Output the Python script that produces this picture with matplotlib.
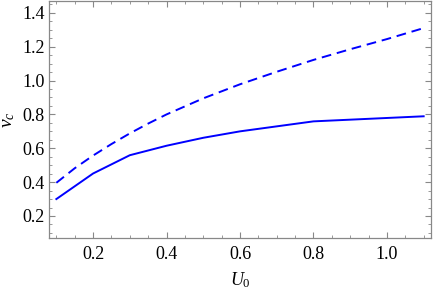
import matplotlib
matplotlib.use("Agg")
import matplotlib.pyplot as plt
from matplotlib.ticker import MultipleLocator

# data
U0_solid = [0.1, 0.2, 0.3, 0.4, 0.5, 0.6, 0.8, 1.1]
vc_solid = [0.30, 0.451, 0.559, 0.615, 0.662, 0.70, 0.759, 0.789]

U0_dash = [0.1, 0.15, 0.2, 0.25, 0.3, 0.35, 0.4, 0.5, 0.6, 0.7, 0.8, 0.9, 1.0, 1.1]
vc_dash = [0.396, 0.482, 0.557, 0.625, 0.688, 0.746, 0.80, 0.895, 0.978, 1.052, 1.122, 1.185, 1.245, 1.31]

plt.rcParams['font.family'] = ['Liberation Serif', 'DejaVu Serif']
plt.rcParams['mathtext.fontset'] = 'custom'
plt.rcParams['mathtext.it'] = 'Liberation Serif:italic'
plt.rcParams['mathtext.rm'] = 'Liberation Serif'

fig = plt.figure(figsize=(4.36, 2.97), dpi=100)
ax = fig.add_axes([49/436, 1 - 238/297, (431-49)/436, 237/297])

ax.plot(U0_dash, vc_dash, color='#0000ff', lw=1.4, dashes=(5, 3))
ax.plot(U0_solid, vc_solid, color='#0000ff', lw=1.4)

ax.set_xlim(0.08, 1.12)
ax.set_ylim(0.07, 1.47)
ax.xaxis.set_minor_locator(MultipleLocator(0.05))
ax.yaxis.set_minor_locator(MultipleLocator(0.05))
ax.set_xticks([0.2, 0.4, 0.6, 0.8, 1.0])
ax.set_yticks([0.2, 0.4, 0.6, 0.8, 1.0, 1.2, 1.4])
ax.set_xticklabels(['0.2', '0.4', '0.6', '0.8', '1.0'])
ax.set_yticklabels(['0.2', '0.4', '0.6', '0.8', '1.0', '1.2', '1.4'])

for s in ax.spines.values():
    s.set_color('#888888')
    s.set_linewidth(0.9)
ax.tick_params(which='both', direction='in', top=True, right=True,
               color='#888888', labelsize=13, labelcolor='black')
ax.tick_params(axis='x', pad=6)
ax.tick_params(axis='y', pad=3)
ax.tick_params(which='major', length=4.5, width=0.8)
ax.tick_params(which='minor', length=2.5, width=0.6)

ax.set_xlabel(r'$U_0$', fontsize=13, labelpad=5)
ax.set_ylabel(r'$v_c$', fontsize=14, labelpad=4)

fig.savefig('out.png', dpi=100)
